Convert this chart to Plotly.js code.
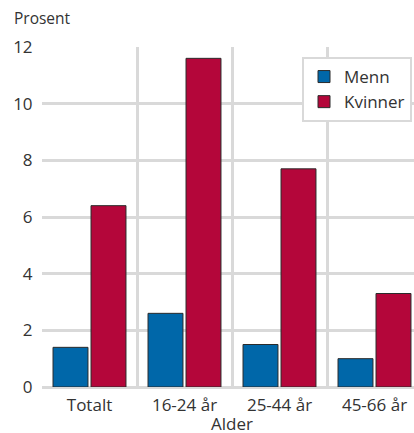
<!DOCTYPE html>
<html><head><meta charset="utf-8">
<script src="https://cdn.plot.ly/plotly-3.0.1.min.js"></script>
<style>html,body{margin:0;padding:0;overflow:hidden;background:#fff}#c{width:430px;height:433px}</style>
</head><body><div id="c"></div>
<script>
const categories = ["Totalt", "16-24 år", "25-44 år", "45-66 år"];
const menn = [1.4, 2.6, 1.5, 1.0];
const kvinner = [6.4, 11.6, 7.7, 3.3];
const seriesNames = ["Menn", "Kvinner"];
const yTicks = [0, 2, 4, 6, 8, 10, 12];
const xTitle = "Alder";

const font = {family: "Open Sans, Noto Sans, sans-serif", size: 17, color: "#333"};
const data = [
  {type: "bar", name: seriesNames[0], x: categories, y: menn,
   marker: {color: "#0067A9", line: {color: "#2b2b2b", width: 1}}},
  {type: "bar", name: seriesNames[1], x: categories, y: kvinner,
   marker: {color: "#B4063A", line: {color: "#2b2b2b", width: 1}}}
];
const layout = {
  width: 430, height: 433,
  margin: {l: 42, r: 8, t: 47, b: 46},
  paper_bgcolor: "#fff", plot_bgcolor: "#fff",
  font: font,
  barmode: "group", bargap: 0.2, bargroupgap: 0.08,
  showlegend: true,
  title: {text: "Prosent", xref: "container", yref: "container", x: 14/430, xanchor: "left",
          y: 1 - 19/433, yanchor: "middle", font: {family: font.family, size: 15.5, color: "#333"}},
  xaxis: {type: "category", tickson: "boundaries", showgrid: true, gridcolor: "#d9d9d9", gridwidth: 3,
          ticks: "", ticklabelstandoff: 6, showline: false, zeroline: false,
          tickfont: {size: 17, color: "#333"}},
  yaxis: {range: [0, 12], tickvals: yTicks, showgrid: true, gridcolor: "#d9d9d9", gridwidth: 3,
          zeroline: true, zerolinecolor: "#d9d9d9", zerolinewidth: 3,
          ticks: "outside", ticklen: 5, tickcolor: "rgba(0,0,0,0)",
          tickfont: {size: 17, color: "#333"}, fixedrange: true},
  annotations: [{text: xTitle, xref: "paper", yref: "paper", x: 0.5, y: (387-423)/340,
                 xanchor: "center", yanchor: "middle", showarrow: false,
                 font: {size: 17, color: "#333"}}],
  legend: {x: (302-42)/380, y: (387-57)/340, xanchor: "left", yanchor: "top",
           bgcolor: "#fff", bordercolor: "#d9d9d9", borderwidth: 2,
           font: {size: 17, color: "#333"}, itemwidth: 30, tracegroupgap: 0}
};
Plotly.newPlot("c", data, layout, {displayModeBar: false, staticPlot: true});
</script></body></html>
